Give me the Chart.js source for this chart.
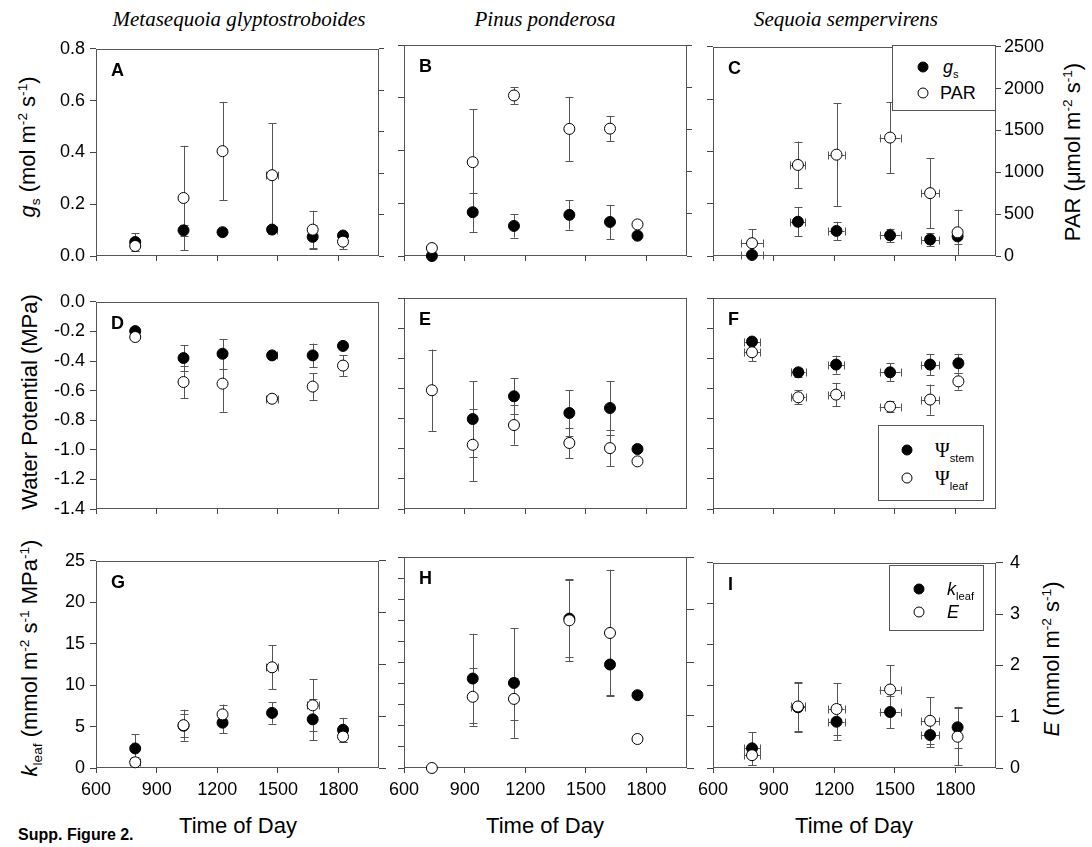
<!DOCTYPE html>
<html><head><meta charset="utf-8">
<script src="https://cdn.jsdelivr.net/npm/chart.js@4.4.1/dist/chart.umd.min.js"></script>
<style>
body{margin:0;background:#fff;width:1092px;height:847px;position:relative;overflow:hidden;font-family:'Liberation Sans',Arial,sans-serif;color:#000}
canvas{position:absolute}
.t{position:absolute;white-space:nowrap;line-height:1}
.c{transform:translate(-50%,-50%)}
.rot{transform:translate(-50%,-50%) rotate(-90deg)}
.col{font-family:'Liberation Serif','Times New Roman',serif;font-style:italic;font-size:21px}
.ax{font-size:22px}
.leg{position:absolute;border:1px solid #555;background:#fff;box-sizing:border-box}
.dot{position:absolute;width:11px;height:11px;border-radius:50%;border:1px solid #000;transform:translate(-50%,-50%);box-sizing:border-box}
.lt{position:absolute;white-space:nowrap;font-size:18px;line-height:1;transform:translateY(-50%)}
sub,sup{font-size:0.62em;line-height:0}
.psi{font-family:'Liberation Serif','Times New Roman',serif;font-size:20px}
</style></head><body>

<div class="t c col" style="left:239px;top:19px">Metasequoia glyptostroboides</div>
<div class="t c col" style="left:545px;top:19px">Pinus ponderosa</div>
<div class="t c col" style="left:846px;top:19px">Sequoia sempervirens</div>

<div class="t rot ax" style="left:28px;top:147px"><i>g</i><sub>s</sub> (mol m<sup>-2</sup> s<sup>-1</sup>)</div>
<div class="t rot ax" style="left:30px;top:402px">Water Potential (MPa)</div>
<div class="t rot ax" style="left:30px;top:658px"><i>k</i><sub>leaf</sub> (mmol m<sup>-2</sup> s<sup>-1</sup> MPa<sup>-1</sup>)</div>
<div class="t rot ax" style="left:1073px;top:152px">PAR (&mu;mol m<sup>-2</sup> s<sup>-1</sup>)</div>
<div class="t rot ax" style="left:1052px;top:659px"><i>E</i> (mmol m<sup>-2</sup> s<sup>-1</sup>)</div>

<div class="t c ax" style="left:238px;top:826px">Time of Day</div>
<div class="t c ax" style="left:545px;top:826px">Time of Day</div>
<div class="t c ax" style="left:854px;top:826px">Time of Day</div>
<div class="t" style="left:18px;top:827px;font-size:16px;font-weight:bold">Supp. Figure 2.</div>

<canvas id="cA"></canvas><canvas id="cB"></canvas><canvas id="cC"></canvas>
<canvas id="cD"></canvas><canvas id="cE"></canvas><canvas id="cF"></canvas>
<canvas id="cG"></canvas><canvas id="cH"></canvas><canvas id="cI"></canvas>

<div class="leg" style="left:892px;top:45px;width:104px;height:66px">
  <div class="dot" style="left:30px;top:21px;background:#000"></div>
  <div class="lt" style="left:50px;top:21px"><i>g</i><sub>s</sub></div>
  <div class="dot" style="left:30px;top:47px;background:#fff"></div>
  <div class="lt" style="left:47px;top:47px">PAR</div>
</div>
<div class="leg" style="left:878px;top:425px;width:106px;height:76px">
  <div class="dot" style="left:28px;top:24px;background:#000"></div>
  <div class="lt" style="left:56px;top:24px"><span class="psi">&Psi;</span><sub>stem</sub></div>
  <div class="dot" style="left:28px;top:52px;background:#fff"></div>
  <div class="lt" style="left:56px;top:52px"><span class="psi">&Psi;</span><sub>leaf</sub></div>
</div>
<div class="leg" style="left:889px;top:565px;width:95px;height:66px">
  <div class="dot" style="left:29px;top:23px;background:#000"></div>
  <div class="lt" style="left:57px;top:23px"><i>k</i><sub>leaf</sub></div>
  <div class="dot" style="left:29px;top:46px;background:#fff"></div>
  <div class="lt" style="left:57px;top:46px"><i>E</i></div>
</div>

<script>
// ---------- tick labels ----------
const timeTicks = [600, 900, 1200, 1500, 1800];
const gsTicks = [0, 0.2, 0.4, 0.6, 0.8];
const parTicks = [0, 500, 1000, 1500, 2000, 2500];
const wpTicks = [0, -0.2, -0.4, -0.6, -0.8, -1.0, -1.2, -1.4];
const kTicks = [0, 5, 10, 15, 20, 25];
const kTicksMinor = [0, 2.5, 5, 7.5, 10, 12.5, 15, 17.5, 20, 22.5, 25];
const eTicks = [0, 1, 2, 3, 4];

// ---------- Panel A: Metasequoia, gs & PAR ----------
const timeA = [794, 1033, 1226, 1471, 1672, 1822];
const gsA = [0.054, 0.099, 0.092, 0.102, 0.074, 0.079];
const gsErrA = [0.035, 0.022, 0, 0, 0.045, 0.005];
const gsTimeErrA = [0, 0, 0, 22, 0, 0];
const parA = [121, 700, 1265, 975, 318, 173];
const parErrA = [55, 630, 595, 628, 228, 90];
const parTimeErrA = [0, 0, 0, 28, 0, 0];

// ---------- Panel B: Pinus, gs & PAR ----------
const timeB = [738, 940, 1144, 1418, 1619, 1755];
const gsB = [0.0, 0.166, 0.114, 0.156, 0.129, 0.077];
const gsErrB = [0, 0.074, 0.044, 0.056, 0.065, 0];
const parB = [94, 1112, 1902, 1506, 1509, 374];
const parErrB = [0, 630, 100, 380, 150, 0];

// ---------- Panel C: Sequoia, gs & PAR ----------
const timeC = [793, 1020, 1211, 1476, 1674, 1810];
const timeErrC = [55, 37, 40, 52, 45, 0];
const gsC = [0.004, 0.131, 0.096, 0.079, 0.063, 0.075];
const gsErrC = [0, 0.055, 0.035, 0.026, 0.025, 0.03];
const parC = [153, 1088, 1211, 1415, 751, 283];
const parErrC = [165, 280, 612, 425, 420, 270];

// ---------- Panel D: Metasequoia, water potential ----------
const timeD = [794, 1033, 1226, 1471, 1672, 1822];
const stemD = [-0.198, -0.380, -0.351, -0.362, -0.362, -0.298];
const stemErrD = [0, 0.088, 0.10, 0, 0.08, 0];
const stemTimeErrD = [0, 0, 0, 22, 0, 0];
const leafD = [-0.238, -0.542, -0.553, -0.655, -0.573, -0.431];
const leafErrD = [0, 0.11, 0.19, 0, 0.09, 0.07];
const leafTimeErrD = [0, 0, 0, 28, 0, 0];

// ---------- Panel E: Pinus, water potential ----------
const timeE = [738, 940, 1144, 1418, 1619, 1755];
const stemE = [null, -0.803, -0.652, -0.763, -0.730, -1.002];
const stemErrE = [0, 0.25, 0.12, 0.15, 0.18, 0];
const leafE = [-0.612, -0.974, -0.843, -0.962, -0.996, -1.084];
const leafErrE = [0.27, 0.24, 0.13, 0.10, 0.12, 0];

// ---------- Panel F: Sequoia, water potential ----------
const timeF = [793, 1022, 1209, 1476, 1674, 1814];
const timeErrF = [40, 36, 39, 52, 46, 0];
const stemF = [-0.289, -0.493, -0.442, -0.493, -0.442, -0.433];
const stemErrF = [0, 0.03, 0.06, 0.06, 0.07, 0.062];
const leafF = [-0.360, -0.659, -0.641, -0.721, -0.674, -0.553];
const leafErrF = [0.06, 0.047, 0.078, 0.035, 0.10, 0.055];

// ---------- Panel G: Metasequoia, kleaf & E ----------
const timeG = [794, 1033, 1226, 1471, 1672, 1822];
const kG = [2.36, 5.1, 5.47, 6.65, 5.87, 4.61];
const kErrG = [1.7, 1.4, 1.25, 1.3, 2.5, 1.45];
const eG = [0.11, 0.827, 1.035, 1.944, 1.21, 0.606];
const eErrG = [0.1, 0.30, 0.19, 0.425, 0.5, 0.1];
const eTimeErrG = [25, 0, 0, 30, 30, 0];

// ---------- Panel H: Pinus, kleaf & E ----------
const timeH = [738, 940, 1144, 1418, 1619, 1755];
const kH = [null, 10.6, 10.08, 17.7, 12.26, 8.63];
const kErrH = [0, 5.3, 6.5, 4.6, 3.6, 0];
const eH = [0.0, 1.35, 1.31, 2.80, 2.56, 0.55];
const eErrH = [0, 0.55, 0.4, 0.78, 1.2, 0];

// ---------- Panel I: Sequoia, kleaf & E ----------
const timeI = [793, 1020, 1211, 1476, 1674, 1810];
const timeErrI = [40, 36, 40, 52, 46, 0];
const kI = [2.4, 7.4, 5.64, 6.82, 4.02, 4.96];
const kErrI = [2.0, 3.0, 2.2, 1.95, 1.5, 2.5];
const eI = [0.25, 1.2, 1.15, 1.53, 0.92, 0.61];
const eErrI = [0.2, 0.47, 0.5, 0.47, 0.46, 0.55];

// ---------- drawing helpers ----------
const FONT = "'Liberation Sans', Arial, sans-serif";
const AXC = '#444';
const zip = (xs, ys) => xs.map((x, i) => ({x: x, y: ys[i]}));
const zeros = n => new Array(n).fill(0);

const framePlugin = {
  id: 'frame',
  beforeDatasetsDraw(chart) {
    const a = chart.chartArea, ctx = chart.ctx;
    ctx.save();
    ctx.strokeStyle = '#555'; ctx.lineWidth = 1;
    ctx.strokeRect(Math.round(a.left) + 0.5, Math.round(a.top) + 0.5,
                   Math.round(a.right - a.left) - 1, Math.round(a.bottom - a.top) - 1);
    ctx.restore();
  }
};
const errorBarPlugin = {
  id: 'errbars',
  beforeDatasetsDraw(chart) {
    const ctx = chart.ctx;
    chart.data.datasets.forEach((ds, i) => {
      const meta = chart.getDatasetMeta(i);
      const xs = chart.scales[meta.xAxisID], ys = chart.scales[meta.yAxisID];
      ds.data.forEach((p, j) => {
        if (p.y == null) return;
        const x = xs.getPixelForValue(p.x), y = ys.getPixelForValue(p.y);
        ctx.save();
        ctx.strokeStyle = ds.errColor || '#555'; ctx.lineWidth = 1;
        const ey = ds.yErr ? ds.yErr[j] : 0;
        if (ey) {
          const y1 = ys.getPixelForValue(p.y + ey), y2 = ys.getPixelForValue(p.y - ey);
          const xx = Math.round(x) + 0.5;
          ctx.beginPath();
          ctx.moveTo(xx, y1); ctx.lineTo(xx, y2);
          ctx.moveTo(xx - 4, Math.round(y1) + 0.5); ctx.lineTo(xx + 4, Math.round(y1) + 0.5);
          ctx.moveTo(xx - 4, Math.round(y2) + 0.5); ctx.lineTo(xx + 4, Math.round(y2) + 0.5);
          ctx.stroke();
        }
        const ex = ds.xErr ? ds.xErr[j] : 0;
        if (ex) {
          const x1 = xs.getPixelForValue(p.x - ex), x2 = xs.getPixelForValue(p.x + ex);
          const yy = Math.round(y) + 0.5;
          ctx.beginPath();
          ctx.moveTo(x1, yy); ctx.lineTo(x2, yy);
          ctx.moveTo(Math.round(x1) + 0.5, yy - 4); ctx.lineTo(Math.round(x1) + 0.5, yy + 4);
          ctx.moveTo(Math.round(x2) + 0.5, yy - 4); ctx.lineTo(Math.round(x2) + 0.5, yy + 4);
          ctx.stroke();
        }
        ctx.restore();
      });
    });
  }
};
const letterPlugin = {
  id: 'letter',
  afterDraw(chart, args, opts) {
    const a = chart.chartArea, ctx = chart.ctx;
    ctx.save();
    ctx.font = 'bold 18px ' + FONT;
    ctx.fillStyle = '#000';
    ctx.textBaseline = 'alphabetic';
    ctx.fillText(opts.text || '', a.left + 15, a.top + 27);
    ctx.restore();
  }
};

function setTicks(vals) { return s => { s.ticks = vals.map(v => ({value: v})); }; }

function filledSet(data, yAxisID, yErr, xErr) {
  return {data, yAxisID, yErr, xErr, order: 1, pointRadius: 5.5, pointHoverRadius: 5.5,
          backgroundColor: '#000', borderColor: '#000', borderWidth: 1, showLine: false, clip: false};
}
function openSet(data, yAxisID, yErr, xErr) {
  return {data, yAxisID, yErr, xErr, order: 0, pointRadius: 5.5, pointHoverRadius: 5.5,
          backgroundColor: '#fff', borderColor: '#000', borderWidth: 1, showLine: false, clip: false};
}

const fmt1 = v => Number(v).toFixed(1);
const fmt0 = v => String(v);

function makePanel(id, c) {
  const W = 283, H = 211, L = 60, R = 60, T = 12, B = 36;
  const cv = document.getElementById(id);
  cv.width = L + W + R; cv.height = T + H + B;
  cv.style.width = cv.width + 'px'; cv.style.height = cv.height + 'px';
  cv.style.left = (c.left - L) + 'px'; cv.style.top = (c.top - T) + 'px';
  const rightShown = !!c.y2;
  new Chart(cv, {
    type: 'scatter',
    data: {datasets: c.datasets},
    options: {
      responsive: false, animation: false, devicePixelRatio: 1,
      layout: {padding: {top: T, left: 0, right: 0, bottom: 0}},
      plugins: {legend: {display: false}, tooltip: {enabled: false}, letter: {text: c.letter}},
      scales: {
        x: {
          type: 'linear', position: 'bottom', min: 600, max: 2000,
          afterBuildTicks: setTicks(timeTicks), afterFit: s => { s.height = B; },
          border: {display: false},
          grid: {drawOnChartArea: false, tickLength: 5, color: AXC},
          ticks: {display: !!c.xLabels, autoSkip: false, maxRotation: 0, padding: 6, color: '#000',
                  font: {family: FONT, size: 18}, callback: fmt0}
        },
        y: {
          type: 'linear', position: 'left', min: c.y.min, max: c.y.max,
          afterBuildTicks: setTicks(c.y.ticks), afterFit: s => { s.width = L; },
          border: {display: false},
          grid: {drawOnChartArea: false, tickLength: 6, color: AXC},
          ticks: {display: !!c.y.labels, autoSkip: false, padding: 5, color: '#000',
                  font: {family: FONT, size: 18}, callback: c.y.fmt}
        },
        y2: {
          type: 'linear', position: 'right',
          min: rightShown ? c.y2.min : 0, max: rightShown ? c.y2.max : 1,
          afterBuildTicks: setTicks(rightShown ? c.y2.ticks : []), afterFit: s => { s.width = R; },
          border: {display: false},
          grid: {display: rightShown, drawOnChartArea: false, tickLength: rightShown ? c.y2.tl : 0, color: AXC},
          ticks: {display: rightShown && !!c.y2.labels, autoSkip: false, padding: rightShown ? c.y2.pad : 0,
                  color: '#000', font: {family: FONT, size: 18}, callback: fmt0}
        }
      }
    },
    plugins: [framePlugin, errorBarPlugin, letterPlugin]
  });
}

const lefts = [96, 404, 713];
const tops = [45, 298, 557];
const rowGs = (labels) => ({min: 0, max: 0.8, ticks: gsTicks, labels, fmt: fmt1});
const rowPar = (labels) => ({min: 0, max: 2500, ticks: parTicks, labels, tl: 5, pad: 3});
const rowWp = (labels) => ({min: -1.4, max: 0, ticks: wpTicks, labels, fmt: fmt1});
const rowK = (labels, ticks) => ({min: 0, max: 25, ticks: ticks || kTicks, labels, fmt: fmt0});
const rowE = (labels) => ({min: 0, max: 4, ticks: eTicks, labels, tl: 7, pad: 7});

makePanel('cA', {left: lefts[0], top: tops[0], letter: 'A', y: rowGs(true), y2: rowPar(false), datasets: [
  filledSet(zip(timeA, gsA), 'y', gsErrA, gsTimeErrA),
  openSet(zip(timeA, parA), 'y2', parErrA, parTimeErrA)]});
makePanel('cB', {left: lefts[1], top: tops[0], letter: 'B', y: rowGs(false), y2: rowPar(false), datasets: [
  filledSet(zip(timeB, gsB), 'y', gsErrB, zeros(6)),
  openSet(zip(timeB, parB), 'y2', parErrB, zeros(6))]});
makePanel('cC', {left: lefts[2], top: tops[0], letter: 'C', y: rowGs(false), y2: rowPar(true), datasets: [
  filledSet(zip(timeC, gsC), 'y', gsErrC, timeErrC),
  openSet(zip(timeC, parC), 'y2', parErrC, timeErrC)]});

makePanel('cD', {left: lefts[0], top: tops[1], letter: 'D', y: rowWp(true), datasets: [
  filledSet(zip(timeD, stemD), 'y', stemErrD, stemTimeErrD),
  openSet(zip(timeD, leafD), 'y', leafErrD, leafTimeErrD)]});
makePanel('cE', {left: lefts[1], top: tops[1], letter: 'E', y: rowWp(false), datasets: [
  filledSet(zip(timeE, stemE), 'y', stemErrE, zeros(6)),
  openSet(zip(timeE, leafE), 'y', leafErrE, zeros(6))]});
makePanel('cF', {left: lefts[2], top: tops[1], letter: 'F', y: rowWp(false), datasets: [
  filledSet(zip(timeF, stemF), 'y', stemErrF, timeErrF),
  openSet(zip(timeF, leafF), 'y', leafErrF, timeErrF)]});

makePanel('cG', {left: lefts[0], top: tops[2], letter: 'G', xLabels: true, y: rowK(true), y2: rowE(false), datasets: [
  filledSet(zip(timeG, kG), 'y', kErrG, zeros(6)),
  openSet(zip(timeG, eG), 'y2', eErrG, eTimeErrG)]});
makePanel('cH', {left: lefts[1], top: tops[2], letter: 'H', xLabels: true, y: rowK(false, kTicksMinor), y2: rowE(false), datasets: [
  filledSet(zip(timeH, kH), 'y', kErrH, zeros(6)),
  openSet(zip(timeH, eH), 'y2', eErrH, zeros(6))]});
makePanel('cI', {left: lefts[2], top: tops[2], letter: 'I', xLabels: true, y: rowK(false), y2: rowE(true), datasets: [
  filledSet(zip(timeI, kI), 'y', kErrI, timeErrI),
  openSet(zip(timeI, eI), 'y2', eErrI, timeErrI)]});
</script>
</body></html>
